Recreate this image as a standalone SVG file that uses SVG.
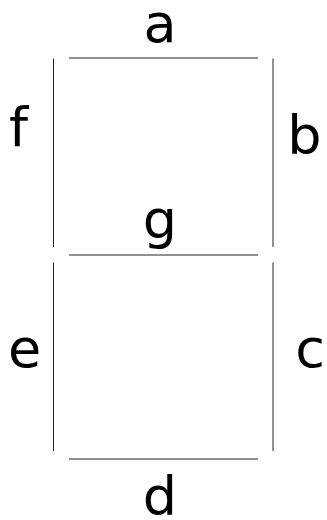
<svg xmlns="http://www.w3.org/2000/svg" width="327" height="520" viewBox="0 0 327 520">
<style>
.seg{stroke:#222;stroke-width:1;fill:none}
.lbl{font-family:"DejaVu Sans",sans-serif;font-size:54px;fill:#000;text-anchor:middle}
</style>
<rect width="327" height="520" fill="#fff"/>
<g id="segments">
<g id="seg-a"><line class="seg" x1="69" y1="58" x2="258" y2="58"/></g>
<g id="seg-b"><line class="seg" x1="273" y1="58.5" x2="273" y2="247"/></g>
<g id="seg-c"><line class="seg" x1="273" y1="262.5" x2="273" y2="451"/></g>
<g id="seg-d"><line class="seg" x1="69" y1="459" x2="258" y2="459"/></g>
<g id="seg-e"><line class="seg" x1="53.5" y1="262.5" x2="53.5" y2="451"/></g>
<g id="seg-f"><line class="seg" x1="53.5" y1="58.5" x2="53.5" y2="247"/></g>
<g id="seg-g"><line class="seg" x1="69" y1="255" x2="258" y2="255"/></g>
</g>
<g id="labels">
<text class="lbl" x="160" y="41.5">a</text>
<text class="lbl" x="304.5" y="154">b</text>
<text class="lbl" x="310" y="366.5">c</text>
<text class="lbl" x="160" y="515">d</text>
<text class="lbl" x="24.5" y="366.5">e</text>
<text class="lbl" x="18.5" y="146">f</text>
<text class="lbl" x="160" y="238">g</text>
</g>
</svg>
